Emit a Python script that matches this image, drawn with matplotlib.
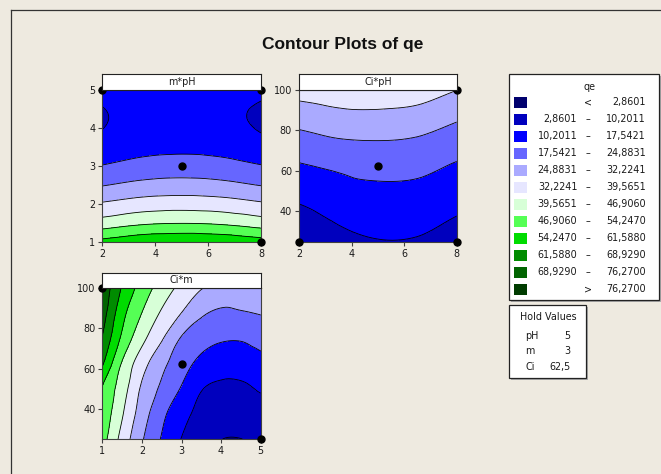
import numpy as np
import matplotlib
matplotlib.use('Agg')
import matplotlib.pyplot as plt
import matplotlib.tri as mtri
from matplotlib.patches import Rectangle
from matplotlib.lines import Line2D

plt.rcParams['font.family'] = ['DejaVu Sans']

W, H = 661, 474

# ---------------- data ----------------
levels_qe = [2.8601, 10.2011, 17.5421, 24.8831, 32.2241, 39.5651,
             46.9060, 54.2470, 61.5880, 68.9290, 76.2700]
level_labels = ["2,8601", "10,2011", "17,5421", "24,8831", "32,2241", "39,5651",
                "46,9060", "54,2470", "61,5880", "68,9290", "76,2700"]
band_colors = ['#00006E', '#0000BE', '#0000FF', '#6666FF', '#AAAAFF', '#E6E6FF',
               '#D7FFD7', '#55FF55', '#00DC00', '#008C00', '#006400', '#003C00']

# panel m*pH : rows = m, cols = pH
pH_vals = [2, 3.5, 5, 6.5, 8]
m_vals = [1, 1.5, 2, 2.5, 3, 3.5, 4, 4.5, 5]
qe_m_pH = [
    [56.3, 59.7, 60.8, 59.9, 57.3],
    [42.7, 45.6, 46.5, 45.7, 43.2],
    [33.0, 35.5, 36.3, 35.5, 33.2],
    [24.4, 26.7, 27.5, 26.7, 24.5],
    [17.8, 20.2, 21.0, 20.2, 17.9],
    [12.4, 15.0, 15.8, 15.0, 12.5],
    [10.1, 12.4, 13.2, 12.4, 9.7],
    [10.0, 12.7, 13.5, 12.2, 9.3],
    [12.5, 15.7, 16.5, 15.5, 12.0],
]

# panel Ci*pH : rows = Ci, cols = pH
Ci_vals = [25, 37.5, 50, 62.5, 75, 87.5, 100]
qe_Ci_pH = [
    [4.2, 8.2, 9.9, 9.6, 7.2],
    [8.1, 11.3, 12.8, 12.6, 10.15],
    [12.4, 14.9, 16.0, 15.7, 13.4],
    [16.9, 18.7, 20.1, 19.6, 16.8],
    [22.3, 24.4, 24.9, 24.1, 21.4],
    [28.4, 30.4, 30.7, 29.8, 26.3],
    [35.2, 36.7, 37.5, 35.9, 32.3],
]

# panel Ci*m : rows = Ci, cols = m
qe_Ci_m = [
    [50.0, 37.0, 25.7, 17.0, 10.0, 5.4, 2.95, 2.80, 4.2],
    [52.2, 40.3, 28.6, 19.4, 12.8, 8.1, 6.05, 5.85, 7.2],
    [53.8, 43.1, 31.1, 23.5, 17.0, 10.6, 8.7, 8.9, 10.9],
    [62.6, 46.3, 35.2, 27.0, 20.6, 15.7, 13.55, 13.4, 15.2],
    [68.5, 52.8, 41.7, 33.0, 24.3, 20.4, 18.35, 18.15, 20.0],
    [72.4, 56.7, 46.8, 38.6, 32.1, 26.0, 23.6, 24.25, 25.3],
    [74.5, 60.9, 51.25, 43.6, 37.6, 32.6, 30.2, 29.9, 31.2],
]

# design points shown as dots
pts_m_pH_x = [2, 8, 5, 8]
pts_m_pH_y = [5, 5, 3, 1]
pts_Ci_pH_x = [8, 5, 2, 8]
pts_Ci_pH_y = [100, 62.5, 25, 25]
pts_Ci_m_x = [1, 3, 5]
pts_Ci_m_y = [100, 62.5, 25]

hold_names = ['pH', 'm', 'Ci']
hold_values = ['5', '3', '62,5']

# ---------------- figure ----------------
BG = '#EEEAE0'
fig = plt.figure(figsize=(W / 100, H / 100), dpi=100, facecolor=BG)


def fx(px):
    return px / W


def fy(py):
    return 1 - py / H


ov = fig.add_axes([0, 0, 1, 1])
ov.set_xlim(0, W)
ov.set_ylim(H, 0)
ov.axis('off')
ov.add_line(Line2D([11, 11], [10, H + 5], color='#333333', lw=0.9))
ov.add_line(Line2D([11, W + 5], [10, 10], color='#333333', lw=0.9))
ov.text(342.5, 44, 'Contour Plots of qe', ha='center', va='center',
        fontsize=12.5, fontweight='bold', color='#111111',
        family=['Liberation Sans', 'DejaVu Sans'])

FS = 6.9
TXT = '#1a1a1a'
bounds = [-1000] + levels_qe + [1000]


def grid_triangulation(xv, yv, z):
    X, Y = np.meshgrid(np.asarray(xv, float), np.asarray(yv, float))
    ny, nx = X.shape
    tris = []
    for j in range(ny - 1):
        for i in range(nx - 1):
            a = j * nx + i
            b = a + 1
            c = a + nx
            d = c + 1
            tris.append([a, b, d])
            tris.append([a, d, c])
    tri = mtri.Triangulation(X.ravel(), Y.ravel(), np.array(tris))
    Z = np.asarray(z, float).ravel()
    interp = mtri.CubicTriInterpolator(tri, Z, kind='geom')
    refiner = mtri.UniformTriRefiner(tri)
    return refiner.refine_field(Z, triinterpolator=interp, subdiv=3)


def panel(left, top, right, bottom, htop, title, xv, yv, z, xlim, ylim,
          xticks, yticks, px, py):
    ax = fig.add_axes([fx(left), fy(bottom), (right - left) / W, (bottom - top) / H])
    tri_r, z_r = grid_triangulation(xv, yv, z)
    ax.tricontourf(tri_r, z_r, levels=bounds, colors=band_colors)
    ax.tricontour(tri_r, z_r, levels=levels_qe, colors='black', linewidths=0.6)
    ax.plot(px, py, 'o', color='black', ms=5, clip_on=False, zorder=6)
    ax.set_xlim(*xlim)
    ax.set_ylim(*ylim)
    ax.set_xticks(xticks)
    ax.set_yticks(yticks)
    ax.tick_params(direction='out', length=3, width=0.8, color='#404040',
                   labelsize=FS, labelcolor=TXT, pad=2)
    for s in ax.spines.values():
        s.set_color('#404040')
        s.set_linewidth(0.8)
    hax = fig.add_axes([fx(left), fy(top), (right - left) / W, (top - htop) / H])
    hax.set_facecolor('white')
    hax.set_xticks([])
    hax.set_yticks([])
    for s in hax.spines.values():
        s.set_color('#222222')
        s.set_linewidth(0.8)
    hax.text(0.5, 0.5, title, ha='center', va='center', fontsize=FS,
             color=TXT, transform=hax.transAxes)
    return ax


panel(102.3, 90, 261, 241.7, 74, 'm*pH', pH_vals, m_vals, qe_m_pH,
      (2, 8), (1, 5), [2, 4, 6, 8], [1, 2, 3, 4, 5], pts_m_pH_x, pts_m_pH_y)
panel(299, 90, 456.7, 241.7, 74, 'Ci*pH', pH_vals, Ci_vals, qe_Ci_pH,
      (2, 8), (25, 100), [2, 4, 6, 8], [40, 60, 80, 100], pts_Ci_pH_x, pts_Ci_pH_y)
panel(102.3, 288, 260.7, 439, 272.7, 'Ci*m', m_vals, Ci_vals, qe_Ci_m,
      (1, 5), (25, 100), [1, 2, 3, 4, 5], [40, 60, 80, 100], pts_Ci_m_x, pts_Ci_m_y)


def box(x0, y0, x1, y1):
    ov.add_patch(Rectangle((x0 + 2, y0 + 2), x1 - x0, y1 - y0, facecolor='#AAAAAA',
                           edgecolor='none', zorder=1))
    ov.add_patch(Rectangle((x0, y0), x1 - x0, y1 - y0, facecolor='white',
                           edgecolor='#222222', lw=0.9, zorder=2))


box(509, 74, 658.5, 300)
ov.text(590, 87, 'qe', ha='center', va='center', fontsize=FS, color=TXT, zorder=3)
for i, col in enumerate(band_colors):
    yc = 102.3 + 17.0 * i
    ov.add_patch(Rectangle((514, yc - 5.5), 13.3, 11, facecolor=col,
                           edgecolor='none', zorder=3))
    if i == 0:
        mid, lft, rgt = '<', '', level_labels[0]
    elif i == len(band_colors) - 1:
        mid, lft, rgt = '>', '', level_labels[-1]
    else:
        mid, lft, rgt = '\u2013', level_labels[i - 1], level_labels[i]
    ov.text(577.3, yc, lft, ha='right', va='center', fontsize=FS, color=TXT, zorder=3)
    ov.text(588.3, yc, mid, ha='center', va='center', fontsize=FS, color=TXT, zorder=3)
    ov.text(645.7, yc, rgt, ha='right', va='center', fontsize=FS, color=TXT, zorder=3)

box(509, 305, 585.7, 378)
ov.text(548.3, 316.7, 'Hold Values', ha='center', va='center', fontsize=FS,
        color=TXT, zorder=3)
for i, (n, v) in enumerate(zip(hold_names, hold_values)):
    yc = 335.7 + 15.5 * i
    ov.text(525, yc, n, ha='left', va='center', fontsize=FS, color=TXT, zorder=3)
    ov.text(570.7, yc, v, ha='right', va='center', fontsize=FS, color=TXT, zorder=3)

fig.savefig('out.png', dpi=100, facecolor=BG)
